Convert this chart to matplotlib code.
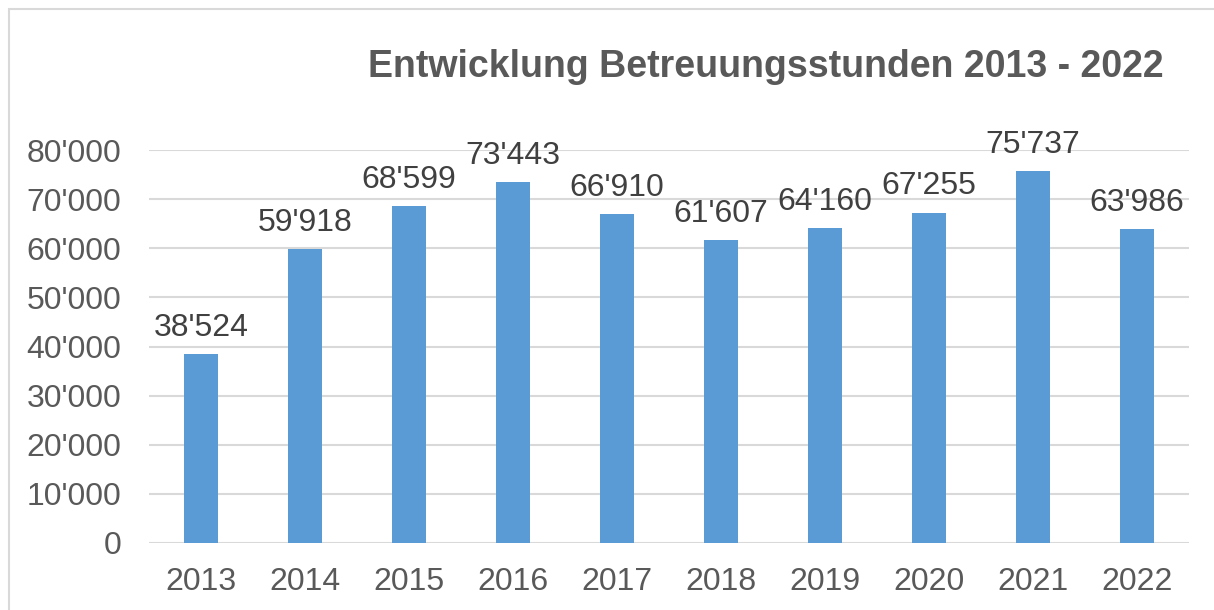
import matplotlib
matplotlib.use("Agg")
import matplotlib.pyplot as plt
from matplotlib.patches import Rectangle
from matplotlib.ticker import FuncFormatter

years = ["2013", "2014", "2015", "2016", "2017", "2018", "2019", "2020", "2021", "2022"]
hours = [38524, 59918, 68599, 73443, 66910, 61607, 64160, 67255, 75737, 63986]
title = "Entwicklung Betreuungsstunden 2013 - 2022"

plt.rcParams['font.family'] = ['Liberation Sans', 'DejaVu Sans']

def fmt(v):
    return f"{int(round(v)):,}".replace(",", "'")

fig = plt.figure(figsize=(12.14, 6.10), dpi=100)
ax = fig.add_axes([149/1214, 1 - 543/610, (1189 - 149)/1214, (543 - 150)/610])

x = list(range(len(years)))
bars = ax.bar(x, hours, width=0.32, color="#5B9BD5", zorder=3)

ax.set_xlim(-0.5, len(years) - 0.5)
ax.set_ylim(0, 80000)
ax.set_yticks(range(0, 80001, 10000))
ax.yaxis.set_major_formatter(FuncFormatter(lambda v, p: fmt(v)))
ax.set_xticks(x)
ax.set_xticklabels(years)
ax.grid(axis="y", color="#D9D9D9", linewidth=1.5, zorder=0)
for s in ax.spines.values():
    s.set_visible(False)
ax.tick_params(axis="both", length=0, labelsize=23, labelcolor="#595959")
ax.tick_params(axis="y", pad=20)
ax.tick_params(axis="x", pad=17)

for xi, v in zip(x, hours):
    ax.annotate(fmt(v), (xi, v), xytext=(0, 8), textcoords="offset points",
                ha="center", va="bottom", fontsize=23, color="#404040")

fig.text(766/1214, 1 - 67/610, title, ha="center", va="center",
         fontsize=27, fontweight="bold", color="#595959")

fig.patches.append(Rectangle((9/1214, -0.1), 1.2, 1 - 9/610 + 0.1,
                             transform=fig.transFigure, fill=False,
                             edgecolor="#D9D9D9", linewidth=1.5))

fig.savefig("out.png", dpi=100)
